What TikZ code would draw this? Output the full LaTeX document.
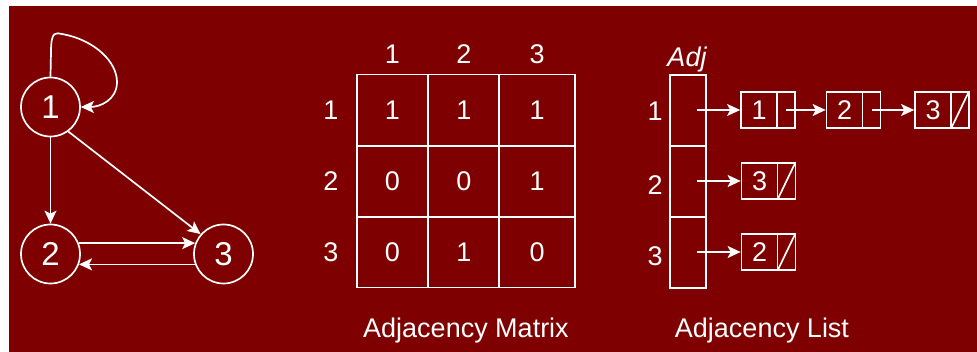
\documentclass[tikz,border=0pt]{standalone}
\usepackage{fontspec}
\setmainfont{Liberation Sans}
\usetikzlibrary{arrows.meta}
\definecolor{bgred}{HTML}{7F0000}
\begin{document}
\begin{tikzpicture}[x=1pt,y=-1pt,
  every node/.style={text=white, font=\fontsize{27}{32}\selectfont},
  lw/.style={draw=white, line width=1.7pt},
  arr/.style={lw, -{Stealth[length=13pt,width=12pt,inset=3pt]}},
  vertex/.style={circle, lw, minimum size=59pt, inner sep=0pt, font=\fontsize{33}{38}\selectfont},
  cell/.style={lw, minimum height=71pt, inner sep=0pt},
  adjcell/.style={lw, minimum height=71pt, minimum width=36pt, inner sep=0pt},
  datacell/.style={lw, minimum height=36pt, minimum width=36pt, inner sep=0pt},
  ptrcell/.style={lw, minimum height=36pt, minimum width=18pt, inner sep=0pt},
  lbl/.style={inner sep=0pt}
]
\useasboundingbox (0,0) rectangle (977,352);
\fill[bgred] (9,6) rectangle (977,352);

% graph
\node[vertex] (n1) at (50.5,107) {1};
\node[vertex] (n2) at (50.5,254) {2};
\node[vertex] (n3) at (223.5,254) {3};
\draw[arr] (n1.north) -- (51,52) .. controls (51,30) and (56,33) .. (62,34)
  .. controls (95,40) and (117,62) .. (117,82)
  .. controls (117,100) and (100,107) .. (n1.east);
\draw[arr] (n1.south) -- (n2.north);
\draw[arr] (n1.-54) -- (n3.139);
\draw[arr] (n2.21) -- (n3.159);
\draw[arr] (n3.-160) -- (n2.-20);

% adjacency matrix
\node[lbl] (h1) at (392.5,54) {1};
\node[lbl] (h2) at (463.8,54) {2};
\node[lbl] (h3) at (537.2,54) {3};
\node[lbl] (r1) at (331,110) {1};
\node[lbl] (r2) at (331,181.2) {2};
\node[lbl] (r3) at (331,252) {3};
\node[cell, minimum width=71.6pt] (m11) at (392.5,110) {1};
\node[cell, minimum width=71pt]   (m12) at (463.8,110) {1};
\node[cell, minimum width=75.7pt] (m13) at (537.2,110) {1};
\node[cell, minimum width=71.6pt] (m21) at (392.5,181.2) {0};
\node[cell, minimum width=71pt]   (m22) at (463.8,181.2) {0};
\node[cell, minimum width=75.7pt] (m23) at (537.2,181.2) {1};
\node[cell, minimum width=71.6pt] (m31) at (392.5,252) {0};
\node[cell, minimum width=71pt]   (m32) at (463.8,252) {1};
\node[cell, minimum width=75.7pt] (m33) at (537.2,252) {0};
\node[lbl, anchor=base] (tm) at (466,338) {Adjacency Matrix};

% adjacency list
\node[lbl, anchor=base, font=\fontsize{27}{32}\selectfont\itshape] (adj) at (687,67) {Adj};
\node[adjcell] (a1) at (688,110.2) {};
\node[adjcell] (a2) at (688,181.3) {};
\node[adjcell] (a3) at (688,252.5) {};
\node[lbl] (l1) at (655,111) {1};
\node[lbl] (l2) at (655,185) {2};
\node[lbl] (l3) at (655,256) {3};

\node[datacell] (d11) at (759,110) {1};
\node[ptrcell]  (p11) at (786,110) {};
\node[datacell] (d12) at (844.5,110) {2};
\node[ptrcell]  (p12) at (871.5,110) {};
\node[datacell] (d13) at (933,110) {3};
\node[ptrcell]  (p13) at (960,110) {};
\node[datacell] (d21) at (759.5,181) {3};
\node[ptrcell]  (p21) at (786.5,181) {};
\node[datacell] (d31) at (759.5,252) {2};
\node[ptrcell]  (p31) at (786.5,252) {};

\foreach \p in {p13,p21,p31}
  \draw[lw] ([shift={(1.5,-1.5)}]\p.south west) -- ([shift={(-1.5,1.5)}]\p.north east);

\coordinate (s1) at (697,110);
\coordinate (s2) at (697,181);
\coordinate (s3) at (697,252);
\draw[arr] (s1) -- (d11.west);
\draw[arr] (s2) -- (d21.west);
\draw[arr] (s3) -- (d31.west);
\draw[arr] (p11.center) -- (d12.west);
\draw[arr] (p12.center) -- (d13.west);

\node[lbl, anchor=base] (tl) at (762,338) {Adjacency List};
\end{tikzpicture}
\end{document}
